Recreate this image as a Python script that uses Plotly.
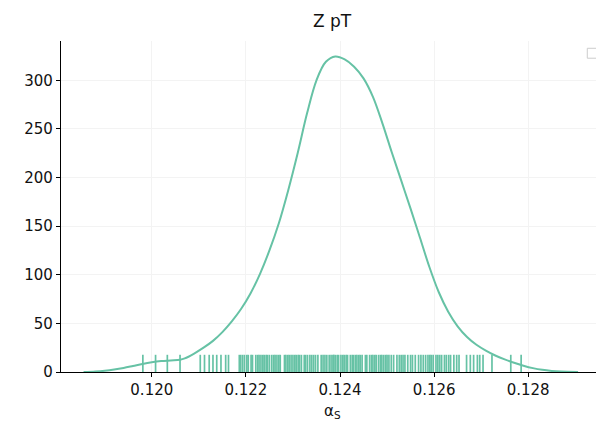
import plotly.graph_objects as go

# KDE curve
kde_x = [0.11855, 0.11880, 0.11900, 0.11920, 0.11940, 0.11960, 0.11980, 0.12000,
         0.12020, 0.12040, 0.12060, 0.12070, 0.12090, 0.12110, 0.12130, 0.12150,
         0.12170, 0.12190, 0.12210, 0.12230, 0.12250, 0.12270, 0.12290, 0.12310,
         0.12330, 0.12350, 0.12370, 0.12390, 0.12410, 0.12430, 0.12450, 0.12470,
         0.12490, 0.12510, 0.12530, 0.12550, 0.12570, 0.12590, 0.12610, 0.12630,
         0.12650, 0.12670, 0.12690, 0.12710, 0.12730, 0.12750, 0.12770, 0.12790,
         0.12810, 0.12830, 0.12850, 0.12870, 0.12906]
kde_y = [0, 0.6, 1.4, 2.6, 4.2, 6.2, 8.3, 10.0,
         11.2, 11.9, 12.6, 14, 19, 25, 32, 41,
         52, 65, 81, 101, 125, 153, 187, 225,
         266, 300, 319, 324.5, 321.5, 314, 302, 283,
         256, 226, 197, 168, 138, 108, 82, 62,
         47, 36, 28, 22, 17, 13, 9.5, 6.5,
         4, 2.2, 1.1, 0.5, 0]

# rug values
rug_x = [0.11981, 0.12008, 0.12033, 0.12060, 0.12103, 0.12112, 0.12122, 0.12130,
         0.12138, 0.12147, 0.12157, 0.12163,
         0.12186, 0.12189, 0.12193, 0.12197, 0.12202, 0.12205, 0.12211, 0.12214,
         0.12221, 0.12225, 0.12228, 0.12232, 0.12236, 0.12239, 0.12243, 0.12246,
         0.12250, 0.12255, 0.12259, 0.12262, 0.12266, 0.12270, 0.12273, 0.12282,
         0.12285, 0.12289, 0.12292, 0.12296, 0.12300, 0.12304, 0.12307, 0.12311,
         0.12314, 0.12318, 0.12324, 0.12327, 0.12331, 0.12336, 0.12340, 0.12344,
         0.12348, 0.12353, 0.12360, 0.12364, 0.12368, 0.12372, 0.12377, 0.12381,
         0.12385,
         0.12387, 0.12390, 0.12394, 0.12397, 0.12402, 0.12406, 0.12409, 0.12413,
         0.12416, 0.12422, 0.12426, 0.12429, 0.12433, 0.12436, 0.12440, 0.12443,
         0.12447, 0.12454, 0.12457, 0.12463, 0.12467, 0.12470, 0.12474, 0.12477,
         0.12482, 0.12486, 0.12489, 0.12493, 0.12497, 0.12500, 0.12504, 0.12509,
         0.12514, 0.12521, 0.12526, 0.12530, 0.12534, 0.12538, 0.12544, 0.12550,
         0.12554, 0.12560, 0.12567, 0.12572, 0.12577, 0.12582, 0.12587, 0.12591,
         0.12594, 0.12598,
         0.12604, 0.12608, 0.12612, 0.12616, 0.12622, 0.12626, 0.12631, 0.12635,
         0.12642, 0.12648, 0.12653, 0.12669, 0.12677, 0.12684, 0.12692, 0.12697,
         0.12704, 0.12723, 0.12763, 0.12785]

x_ticks = [0.120, 0.122, 0.124, 0.126, 0.128]
y_ticks = [0, 50, 100, 150, 200, 250, 300]

color = '#66c2a5'
rug_h = 0.052

rx, ry = [], []
for v in rug_x:
    rx += [v, v, None]
    ry += [0, rug_h, None]

fig = go.Figure()
fig.add_trace(go.Scatter(x=rx, y=ry, mode='lines', yaxis='y2',
                         line=dict(color=color, width=1.7),
                         showlegend=False, hoverinfo='skip'))
fig.add_trace(go.Scatter(x=kde_x, y=kde_y, mode='lines', line_shape='spline',
                         line=dict(color=color, width=2), showlegend=False))

font = dict(family='DejaVu Sans', size=15, color='#111111')
fig.update_layout(
    width=604, height=421,
    margin=dict(l=53, r=9, t=33, b=57),
    paper_bgcolor='white', plot_bgcolor='white',
    font=font,
    title=dict(text='Z pT', x=0.5, xanchor='center', xref='paper',
               y=1, yref='container', yanchor='top', pad=dict(t=7),
               font=dict(family='DejaVu Sans', size=17, color='#111111')),
    xaxis=dict(range=[0.11807, 0.12959], tickvals=x_ticks, tickformat='.3f',
               showline=True, linecolor='black', linewidth=1.2,
               ticks='outside', ticklen=4, tickcolor='black',
               showgrid=True, gridcolor='#f3f3f3', zeroline=False),
    yaxis=dict(range=[0, 340.4], tickvals=y_ticks,
               showline=True, linecolor='black', linewidth=1.2,
               ticks='outside', ticklen=4, tickcolor='black',
               showgrid=True, gridcolor='#f3f3f3', zeroline=False),
    yaxis2=dict(range=[0, 1], overlaying='y', visible=False),
)

# x axis label
fig.add_annotation(text='α<sub>S</sub>', xref='paper', yref='paper',
                   x=0.5, y=-0.085, xanchor='center', yanchor='top',
                   showarrow=False, font=dict(family='DejaVu Sans', size=15, color='#111111'))

# empty legend box, as in the original
fig.add_shape(type='rect', xref='paper', yref='paper',
              x0=0.971, x1=0.99, y0=0.948, y1=0.978,
              line=dict(color='#cccccc', width=1), fillcolor='white')

fig.write_html('out.html')
